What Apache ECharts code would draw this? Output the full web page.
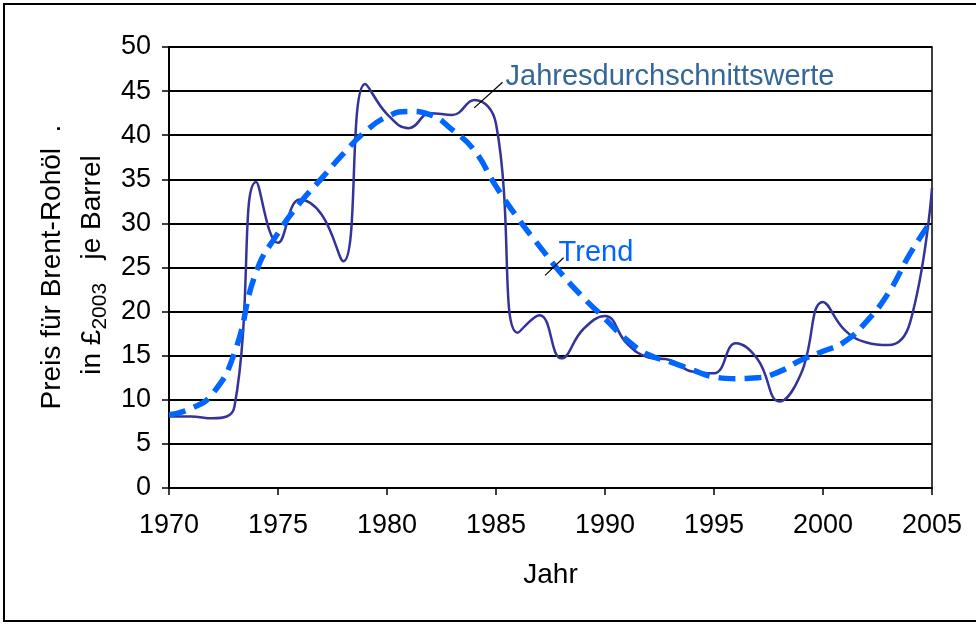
<!DOCTYPE html>
<html>
<head>
<meta charset="utf-8">
<title>Brent-Rohöl Preis</title>
<script src="https://cdn.jsdelivr.net/npm/echarts@6/dist/echarts.min.js"></script>
<style>
  html, body { margin: 0; padding: 0; background: #fff; }
  #chart { width: 976px; height: 624px; }
</style>
</head>
<body>
<div id="chart"></div>
<script>
// Jahre (Kategorien der x-Achse)
const years = [
  1970, 1971, 1972, 1973, 1974, 1975, 1976, 1977, 1978, 1979,
  1980, 1981, 1982, 1983, 1984, 1985, 1986, 1987, 1988, 1989,
  1990, 1991, 1992, 1993, 1994, 1995, 1996, 1997, 1998, 1999,
  2000, 2001, 2002, 2003, 2004, 2005
];

// Jahresdurchschnittswerte, Preis in £(2003) je Barrel
const annualPrice = [
  8.1, 8.1, 7.9, 9.2, 34.7, 27.8, 32.7, 31.0, 25.7, 45.8,
  42.4, 40.8, 42.5, 42.3, 44.0, 41.3, 17.6, 19.6, 14.7, 18.0,
  19.5, 16.4, 14.8, 14.5, 13.2, 13.0, 16.4, 14.6, 9.8, 13.0,
  21.1, 17.9, 16.5, 16.2, 18.8, 34.0
];

// Trendkurve
const trendPrice = [
  8.3, 9.0, 10.7, 15.3, 24.5, 28.9, 32.3, 35.1, 37.9, 40.4,
  42.1, 42.7, 42.3, 40.6, 38.3, 34.2, 30.6, 27.4, 24.3, 21.6,
  19.2, 16.8, 15.1, 14.3, 13.4, 12.6, 12.4, 12.5, 13.2, 14.5,
  15.5, 16.6, 18.9, 22.1, 26.6, 30.4
];

// Achsen-Ticks
const yTicks = [0, 5, 10, 15, 20, 25, 30, 35, 40, 45, 50];
const xTicks = [1970, 1975, 1980, 1985, 1990, 1995, 2000, 2005];

// Beschriftungen im Diagramm: Ankerpunkte der Hinweislinien (Datenkoordinaten)
const labelAnnual = { text: 'Jahresdurchschnittswerte', from: [1984.0, 43.1], to: [1985.3, 46.0] };
const labelTrend = { text: 'Trend', from: [1987.25, 24.1], to: [1988.1, 26.1] };

// y-Achsentitel: erste Zeile, zweite Zeile mit tiefgestelltem Bezugsjahr
const yTitleLine1 = 'Preis für Brent-Rohöl  .';
const yTitleLine2 = ['in £', '2003', '   je Barrel'];

const FONT = 'Arial, "Liberation Sans", Helvetica, sans-serif';

const chart = echarts.init(document.getElementById('chart'), null, { renderer: 'canvas' });

const option = {
  backgroundColor: '#ffffff',
  animation: false,
  textStyle: { fontFamily: FONT },
  grid: {
    left: 169, top: 47, width: 763, height: 441,
    show: true, borderColor: '#000', borderWidth: 1.5, backgroundColor: 'transparent'
  },
  xAxis: {
    type: 'value',
    min: xTicks[0], max: xTicks[xTicks.length - 1], interval: 5,
    name: 'Jahr',
    nameLocation: 'middle',
    nameGap: 73,
    nameTextStyle: { color: '#000', fontSize: 28, fontFamily: FONT, verticalAlign: 'top' },
    axisLine: { show: true, onZero: false, lineStyle: { color: '#000', width: 2 } },
    axisTick: { show: true, inside: false, length: 7, lineStyle: { color: '#000', width: 1.5 } },
    axisLabel: {
      color: '#000', fontSize: 27, fontFamily: FONT, margin: 24,
      formatter: v => String(v)
    },
    splitLine: { show: false }
  },
  yAxis: {
    type: 'value',
    min: yTicks[0], max: yTicks[yTicks.length - 1], interval: 5,
    axisLine: { show: true, lineStyle: { color: '#000', width: 2 } },
    axisTick: { show: true, inside: false, length: 7, lineStyle: { color: '#000', width: 1.5 } },
    axisLabel: { color: '#000', fontSize: 27, fontFamily: FONT, margin: 18 },
    splitLine: { show: true, lineStyle: { color: '#000', width: 2 } }
  },
  series: [
    {
      name: 'Jahresdurchschnittswerte',
      type: 'line',
      data: years.map((y, i) => [y, annualPrice[i]]),
      smooth: 0.45,
      showSymbol: false,
      lineStyle: { color: '#333399', width: 2.5 },
      z: 2
    },
    {
      name: 'Trend',
      type: 'line',
      data: years.map((y, i) => [y, trendPrice[i]]),
      smooth: 0.5,
      showSymbol: false,
      lineStyle: { color: '#0066FF', width: 5.5, type: [17, 9], cap: 'butt' },
      z: 3
    }
  ]
};

chart.setOption(option);

function px(pt) { return chart.convertToPixel({ gridIndex: 0 }, pt); }

// Textbreiten für die Zusammensetzung der zweiten Titelzeile
const measureCtx = document.createElement('canvas').getContext('2d');
function textWidth(str, size) {
  measureCtx.font = size + 'px ' + FONT;
  return measureCtx.measureText(str).width;
}

const a0 = px(labelAnnual.from), a1 = px(labelAnnual.to);
const t0 = px(labelTrend.from), t1 = px(labelTrend.to);

const mainSize = 28, subSize = 21;
const w1 = textWidth(yTitleLine2[0], mainSize);
const w2 = textWidth(yTitleLine2[1], subSize);
const w3 = textWidth(yTitleLine2[2], mainSize);
const line2CenterY = 265, line2X = 92, subShift = 8;
const line2Start = line2CenterY + (w1 + w2 + w3) / 2;

function vText(x, y, text, size, align) {
  return {
    type: 'text', silent: true, z: 10,
    x: x, y: y, rotation: Math.PI / 2,
    style: { text: text, fill: '#000', font: size + 'px ' + FONT, align: align, verticalAlign: 'middle' }
  };
}

chart.setOption({
  graphic: [
    // Rahmen um das gesamte Diagramm
    {
      type: 'rect', silent: true,
      shape: { x: 4, y: 4, width: 990, height: 617 },
      style: { fill: null, stroke: '#000', lineWidth: 2 },
      z: 0
    },
    {
      type: 'line', silent: true, z: 10,
      shape: { x1: a0[0], y1: a0[1], x2: a1[0], y2: a1[1] },
      style: { stroke: '#000', lineWidth: 1.2 }
    },
    {
      type: 'text', silent: true, z: 10,
      x: a1[0] + 3, y: a1[1] - 5,
      style: {
        text: labelAnnual.text, fill: '#336699',
        font: '29px ' + FONT, align: 'left', verticalAlign: 'middle'
      }
    },
    {
      type: 'line', silent: true, z: 10,
      shape: { x1: t0[0], y1: t0[1], x2: t1[0], y2: t1[1] },
      style: { stroke: '#000', lineWidth: 1.2 }
    },
    {
      type: 'text', silent: true, z: 10,
      x: t1[0] - 5, y: t1[1] - 5,
      style: {
        text: labelTrend.text, fill: '#0066FF',
        font: '29px ' + FONT, align: 'left', verticalAlign: 'middle'
      }
    },
    // y-Achsentitel
    vText(52, 267, yTitleLine1, mainSize, 'center'),
    vText(line2X, line2Start, yTitleLine2[0], mainSize, 'left'),
    vText(line2X + subShift, line2Start - w1, yTitleLine2[1], subSize, 'left'),
    vText(line2X, line2Start - w1 - w2, yTitleLine2[2], mainSize, 'left')
  ]
});
</script>
</body>
</html>
